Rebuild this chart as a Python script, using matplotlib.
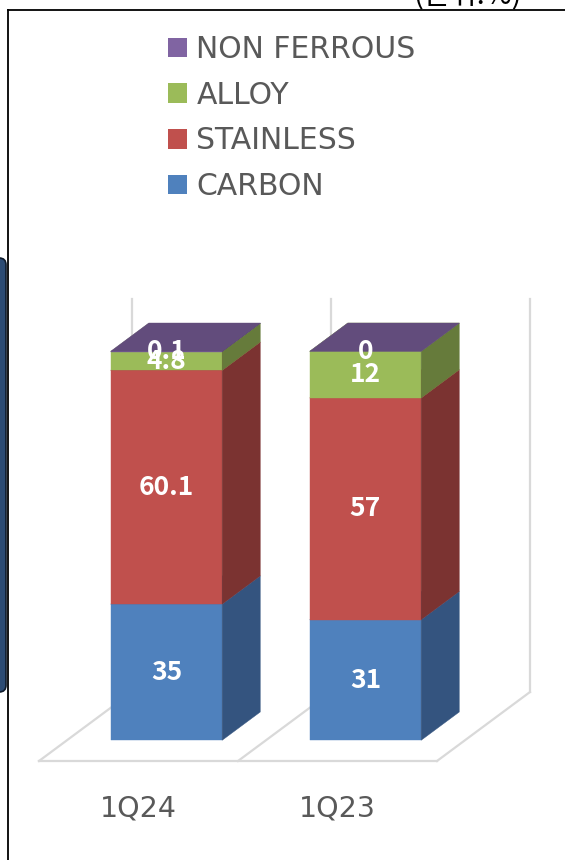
import matplotlib
matplotlib.use("Agg")
import matplotlib.pyplot as plt
from matplotlib.patches import Polygon, Patch, FancyBboxPatch
from matplotlib.lines import Line2D

# ---- data ----
categories = ["1Q24", "1Q23"]
series_names = ["CARBON", "STAINLESS", "ALLOY", "NON FERROUS"]
carbon = [35, 31]
stainless = [60.1, 57]
alloy = [4.8, 12]
non_ferrous = [0.1, 0]
label_texts = {
    "CARBON": ["35", "31"],
    "STAINLESS": ["60.1", "57"],
    "ALLOY": ["4.8", "12"],
    "NON FERROUS": ["0.1", "0"],
}
unit_text = "(단위:%)"

values = [carbon, stainless, alloy, non_ferrous]
front_colors = ["#4F81BD", "#C0504D", "#9BBB59", "#8064A2"]
side_colors = ["#34547F", "#7B3331", "#667B3B", "#544270"]
top_colors = ["#4A77AF", "#B04A47", "#8FAD52", "#624C7C"]

W, H, DPI = 565, 860, 100
fig = plt.figure(figsize=(W / DPI, H / DPI), dpi=DPI)
fig.patch.set_facecolor("white")

# axes = front plane of the floor
x0p, x1p, y0p, hp = 39, 437, 761, 389
ax = fig.add_axes([x0p / W, (H - y0p) / H, (x1p - x0p) / W, hp / H])
ax.set_xlim(-0.5, 1.5)
ax.set_ylim(0, 100)
ax.axis("off")

# oblique depth (data units for full depth)
DX = 93 / ((x1p - x0p) / 2)
DY = 69 / (hp / 100)


def proj(x, y, f):
    return (x + f * DX, y + f * DY)


grid_c = "#D9D9D9"
glw = 1.6
# floor
n = len(categories)
xl, xr = -0.5, n - 0.5
for pts in [
    [proj(xl, 0, 0), proj(xr, 0, 0)],
    [proj(xl, 0, 0), proj(xl, 0, 1)],
    [proj(xr, 0, 0), proj(xr, 0, 1)],
]:
    ax.add_line(Line2D(*zip(*pts), color=grid_c, lw=glw, zorder=1, clip_on=False))
for k in range(1, n):
    pts = [proj(k - 0.5, 0, 0), proj(k - 0.5, 0, 1)]
    ax.add_line(Line2D(*zip(*pts), color=grid_c, lw=glw, zorder=1, clip_on=False))
# back wall verticals
for k in range(n + 1):
    pts = [proj(k - 0.5, 0, 1), proj(k - 0.5, 101, 1)]
    ax.add_line(Line2D(*zip(*pts), color=grid_c, lw=glw, zorder=1, clip_on=False))

# bars
bw = 0.56
f0, f1 = 0.3, 0.71
for i in range(n):
    bottom = 0
    bx0, bx1 = i - bw / 2, i + bw / 2
    for s, vals in enumerate(values):
        h = vals[i]
        yb, yt = bottom, bottom + h
        front = [proj(bx0, yb, f0), proj(bx1, yb, f0), proj(bx1, yt, f0), proj(bx0, yt, f0)]
        side = [proj(bx1, yb, f0), proj(bx1, yb, f1), proj(bx1, yt, f1), proj(bx1, yt, f0)]
        top = [proj(bx0, yt, f0), proj(bx1, yt, f0), proj(bx1, yt, f1), proj(bx0, yt, f1)]
        z = 2 + s * 0.1
        for pts, c in [(front, front_colors[s]), (side, side_colors[s]), (top, top_colors[s])]:
            ax.add_patch(Polygon(pts, closed=True, facecolor=c, edgecolor=c, lw=0.3,
                                 zorder=z, clip_on=False))
        bottom = yt

# data labels
for i in range(n):
    bottom = 0
    for s, vals in enumerate(values):
        h = vals[i]
        mid = bottom + h / 2
        px, py = proj(i, mid, f0)
        ax.text(px, py, label_texts[series_names[s]][i], ha="center", va="center",
                color="white", fontsize=19, fontweight="bold",
                family=["Noto Sans CJK KR", "DejaVu Sans"],
                zorder=5, clip_on=False)
        bottom += h

# category labels
for i, c in enumerate(categories):
    ax.annotate(c, xy=(i, 0), xytext=(0, -47 * 72 / DPI), textcoords="offset points",
                ha="center", va="center", fontsize=20.5, color="#595959",
                family="DejaVu Sans", annotation_clip=False)

# legend
handles = [Patch(facecolor=front_colors[s], edgecolor="none") for s in range(3, -1, -1)]
labels = [series_names[s] for s in range(3, -1, -1)]
fs_leg = 21.5
leg = fig.legend(handles, labels, loc="upper left",
                 bbox_to_anchor=(168 / W, 1 - 35 / H), frameon=False,
                 prop={"family": "DejaVu Sans", "size": fs_leg},
                 handlelength=0.63, handleheight=0.63, handletextpad=0.32,
                 labelspacing=0.56, borderpad=0, borderaxespad=0)
for t in leg.get_texts():
    t.set_color("#595959")

# unit text (cut off at top)
fig.text(522 / W, 1 - 4 / H, unit_text, ha="right", va="baseline", fontsize=21,
         color="#000000", family=["Noto Sans CJK KR", "DejaVu Sans"])

# border lines
fig.add_artist(Line2D([7.5 / W, 7.5 / W], [0, 1 - 10 / H], color="black", lw=1.3,
                      transform=fig.transFigure))
fig.add_artist(Line2D([7.5 / W, 1], [1 - 10 / H, 1 - 10 / H], color="black", lw=1.3,
                      transform=fig.transFigure))

# left dark decoration
fig.add_artist(FancyBboxPatch((-30 / W, (H - 692) / H), 36 / W, (692 - 258) / H,
                              boxstyle="round,pad=0,rounding_size=0.012",
                              facecolor="#2C4B73", edgecolor="#0E1A2A", lw=1.2,
                              transform=fig.transFigure, mutation_aspect=W / H))

fig.savefig("out.png", dpi=DPI)
